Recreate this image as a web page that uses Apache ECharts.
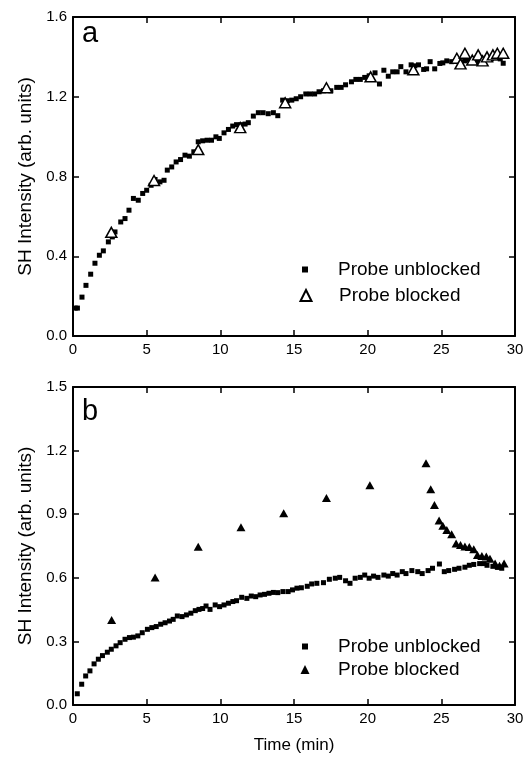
<!DOCTYPE html>
<html><head><meta charset="utf-8">
<script src="https://cdn.jsdelivr.net/npm/echarts@6/dist/echarts.min.js"></script>
<style>html,body{margin:0;padding:0;background:#fff}#c{width:527px;height:760px}</style>
</head><body><div id="c"></div>
<script>
// ---- Data ----
const xTicks = [0, 5, 10, 15, 20, 25, 30];
const aYTicks = [0.0, 0.4, 0.8, 1.2, 1.6];
const bYTicks = [0.0, 0.3, 0.6, 0.9, 1.2, 1.5];
const seriesNames = ['Probe unblocked', 'Probe blocked'];
const panelLabels = ['a', 'b'];
const xTitle = 'Time (min)';
const yTitle = 'SH Intensity (arb. units)';

const aUnblocked = [
[0.15,0.14],[0.3,0.14],[0.61,0.195],[0.88,0.254],[1.2,0.31],[1.49,0.365],[1.79,0.405],[2.06,0.427],
[2.4,0.472],[2.67,0.497],[2.85,0.522],[3.24,0.572],[3.53,0.589],[3.8,0.631],[4.1,0.69],[4.43,0.681],
[4.73,0.715],[5.0,0.731],[5.3,0.756],[5.57,0.785],[5.9,0.773],[6.18,0.781],[6.4,0.832],[6.7,0.848],
[7.0,0.873],[7.3,0.885],[7.6,0.907],[7.9,0.902],[8.2,0.924],[8.5,0.974],[8.8,0.979],[9.1,0.982],
[9.4,0.982],[9.7,0.999],[9.93,0.991],[10.25,1.019],[10.55,1.036],[10.84,1.053],[11.1,1.06],[11.4,1.06],
[11.68,1.063],[11.9,1.07],[12.24,1.103],[12.58,1.12],[12.9,1.12],[13.25,1.115],[13.6,1.12],[13.9,1.105],
[14.23,1.183],[14.55,1.18],[14.85,1.183],[15.15,1.19],[15.45,1.2],[15.8,1.214],[16.1,1.214],[16.4,1.214],
[16.7,1.225],[17.0,1.23],[17.2,1.237],[17.5,1.23],[17.9,1.247],[18.2,1.247],[18.5,1.26],[18.9,1.275],
[19.2,1.287],[19.5,1.287],[19.8,1.297],[20.1,1.305],[20.5,1.32],[20.8,1.264],[21.1,1.333],[21.4,1.303],
[21.7,1.325],[22.0,1.325],[22.25,1.351],[22.6,1.325],[22.95,1.36],[23.2,1.355],[23.45,1.36],[23.8,1.337],
[24.0,1.34],[24.24,1.376],[24.55,1.34],[24.9,1.367],[25.1,1.37],[25.37,1.38],[25.7,1.376],[26.0,1.38],
[26.3,1.375],[26.6,1.38],[26.9,1.385],[27.2,1.38],[27.5,1.375],[27.8,1.385],[28.1,1.39],[28.4,1.39],
[28.7,1.395],[29.0,1.39],[29.2,1.368]
];
const aBlocked = [
[2.6,0.52],[5.5,0.78],[8.5,0.935],[11.35,1.045],[14.4,1.17],[17.2,1.245],[20.2,1.30],[23.1,1.335],
[26.05,1.393],[26.3,1.365],[26.6,1.418],[27.1,1.384],[27.5,1.41],[27.8,1.38],[28.1,1.40],[28.5,1.41],
[28.8,1.418],[29.2,1.418]
];
const bUnblocked = [
[0.29,0.053],[0.59,0.098],[0.86,0.137],[1.15,0.161],[1.43,0.194],[1.72,0.216],[2.0,0.233],[2.33,0.249],
[2.6,0.263],[2.92,0.279],[3.2,0.294],[3.53,0.31],[3.83,0.318],[4.1,0.32],[4.4,0.326],[4.7,0.341],
[5.05,0.357],[5.35,0.365],[5.65,0.37],[5.95,0.381],[6.25,0.388],[6.55,0.396],[6.8,0.404],[7.08,0.42],
[7.4,0.417],[7.7,0.425],[8.0,0.433],[8.3,0.445],[8.55,0.451],[8.8,0.455],[9.03,0.467],[9.3,0.451],
[9.65,0.472],[9.95,0.464],[10.25,0.472],[10.55,0.48],[10.85,0.488],[11.1,0.492],[11.45,0.508],[11.8,0.503],
[12.1,0.514],[12.4,0.511],[12.7,0.519],[13.0,0.522],[13.3,0.527],[13.6,0.531],[13.9,0.53],[14.25,0.535],
[14.6,0.535],[14.9,0.543],[15.2,0.551],[15.5,0.553],[15.9,0.56],[16.2,0.571],[16.55,0.574],[17.0,0.577],
[17.4,0.593],[17.8,0.598],[18.1,0.602],[18.5,0.586],[18.8,0.574],[19.15,0.598],[19.5,0.602],[19.8,0.613],
[20.1,0.598],[20.4,0.608],[20.7,0.602],[21.1,0.613],[21.4,0.608],[21.7,0.62],[22.0,0.613],[22.35,0.629],
[22.6,0.62],[23.0,0.634],[23.4,0.629],[23.7,0.62],[24.1,0.634],[24.4,0.645],[24.87,0.665],[25.2,0.629],
[25.5,0.634],[25.9,0.64],[26.2,0.645],[26.6,0.65],[26.9,0.659],[27.2,0.663],[27.6,0.667],[27.9,0.667],
[28.1,0.659],[28.5,0.654],[28.8,0.65],[29.1,0.645]
];
const bBlocked = [
[2.62,0.401],[5.57,0.602],[8.5,0.747],[11.4,0.838],[14.3,0.904],[17.2,0.977],[20.15,1.037],[23.96,1.14],
[24.28,1.018],[24.53,0.943],[24.85,0.87],[25.1,0.845],[25.37,0.825],[25.7,0.805],[26.0,0.762],[26.3,0.755],
[26.6,0.748],[26.9,0.745],[27.2,0.735],[27.45,0.707],[27.75,0.703],[28.05,0.70],[28.3,0.69],[28.65,0.668],
[28.95,0.657],[29.26,0.668]
];

// ---- Chart ----
const FONT = '"Liberation Sans", Arial, Helvetica, sans-serif';
const chart = echarts.init(document.getElementById('c'), null, {renderer: 'canvas'});
const lineStyle = {color: '#000', width: 2};
function xAxes(gi, showName) {
  const base = {type: 'value', gridIndex: gi, min: xTicks[0], max: xTicks[xTicks.length-1], interval: 5,
    splitLine: {show: false}, axisLine: {show: true, onZero: false, lineStyle},
    axisTick: {show: true, inside: true, length: 6, lineStyle: {color: '#000', width: 1.5}}};
  return [
    Object.assign({}, base, {position: 'bottom',
      axisLabel: {show: true, color: '#000', fontFamily: FONT, fontSize: 15, margin: 6},
      name: showName ? xTitle : '', nameLocation: 'middle', nameGap: 32,
      nameTextStyle: {color: '#000', fontFamily: FONT, fontSize: 17}}),
    Object.assign({}, base, {position: 'top', axisLabel: {show: false}})
  ];
}
function yAxes(gi, ticks) {
  const iv = ticks[1] - ticks[0];
  const base = {type: 'value', gridIndex: gi, min: ticks[0], max: ticks[ticks.length-1], interval: iv,
    splitLine: {show: false}, axisLine: {show: true, onZero: false, lineStyle},
    axisTick: {show: true, inside: true, length: 6, lineStyle: {color: '#000', width: 1.5}}};
  return [
    Object.assign({}, base, {position: 'left',
      axisLabel: {show: true, color: '#000', fontFamily: FONT, fontSize: 15, margin: 6,
        formatter: v => v.toFixed(1)},
      name: yTitle, nameLocation: 'middle', nameGap: 37, nameRotate: 90,
      nameTextStyle: {color: '#000', fontFamily: FONT, fontSize: 19}}),
    Object.assign({}, base, {position: 'right', axisLabel: {show: false}})
  ];
}
function legendItem(name, top, size) {
  return {
    show: true, left: 305 - size/2, top: top, orient: 'vertical', padding: 0,
    itemWidth: size, itemHeight: size, selectedMode: false,
    data: [name], formatter: n => n.slice(2),
    textStyle: {color: '#000', fontFamily: FONT, fontSize: 19, padding: [0, 0, 0, 33 - size/2 - 5]}
  };
}
const option = {
  animation: false,
  backgroundColor: '#fff',
  grid: [
    {left: 73, right: 12, top: 17, height: 319, containLabel: false},
    {left: 73, right: 12, top: 387, height: 318, containLabel: false}
  ],
  xAxis: [...xAxes(0, false), ...xAxes(1, true)],
  yAxis: [...yAxes(0, aYTicks), ...yAxes(1, bYTicks)],
  legend: [
    legendItem('a_' + seriesNames[0], 260, 6),
    legendItem('a_' + seriesNames[1], 286, 11),
    legendItem('b_' + seriesNames[0], 637, 6),
    legendItem('b_' + seriesNames[1], 660, 9)
  ],
  graphic: [
    {type: 'text', left: 82, top: 19, style: {text: panelLabels[0], font: '29px ' + FONT, fill: '#000'}},
    {type: 'text', left: 82, top: 397, style: {text: panelLabels[1], font: '29px ' + FONT, fill: '#000'}}
  ],
  series: [
    {name: 'a_' + seriesNames[0], type: 'scatter', xAxisIndex: 0, yAxisIndex: 0, data: aUnblocked,
      symbol: 'rect', symbolSize: 5, itemStyle: {color: '#000', opacity: 1}},
    {name: 'a_' + seriesNames[1], type: 'scatter', xAxisIndex: 0, yAxisIndex: 0, data: aBlocked,
      symbol: 'triangle', symbolSize: [11, 10], itemStyle: {color: '#fff', borderColor: '#000', borderWidth: 1.5, opacity: 1}, z: 3},
    {name: 'b_' + seriesNames[0], type: 'scatter', xAxisIndex: 2, yAxisIndex: 2, data: bUnblocked,
      symbol: 'rect', symbolSize: 5, itemStyle: {color: '#000', opacity: 1}},
    {name: 'b_' + seriesNames[1], type: 'scatter', xAxisIndex: 2, yAxisIndex: 2, data: bBlocked,
      symbol: 'triangle', symbolSize: [9, 8], itemStyle: {color: '#000', opacity: 1}}
  ]
};
chart.setOption(option);
</script>
</body></html>
